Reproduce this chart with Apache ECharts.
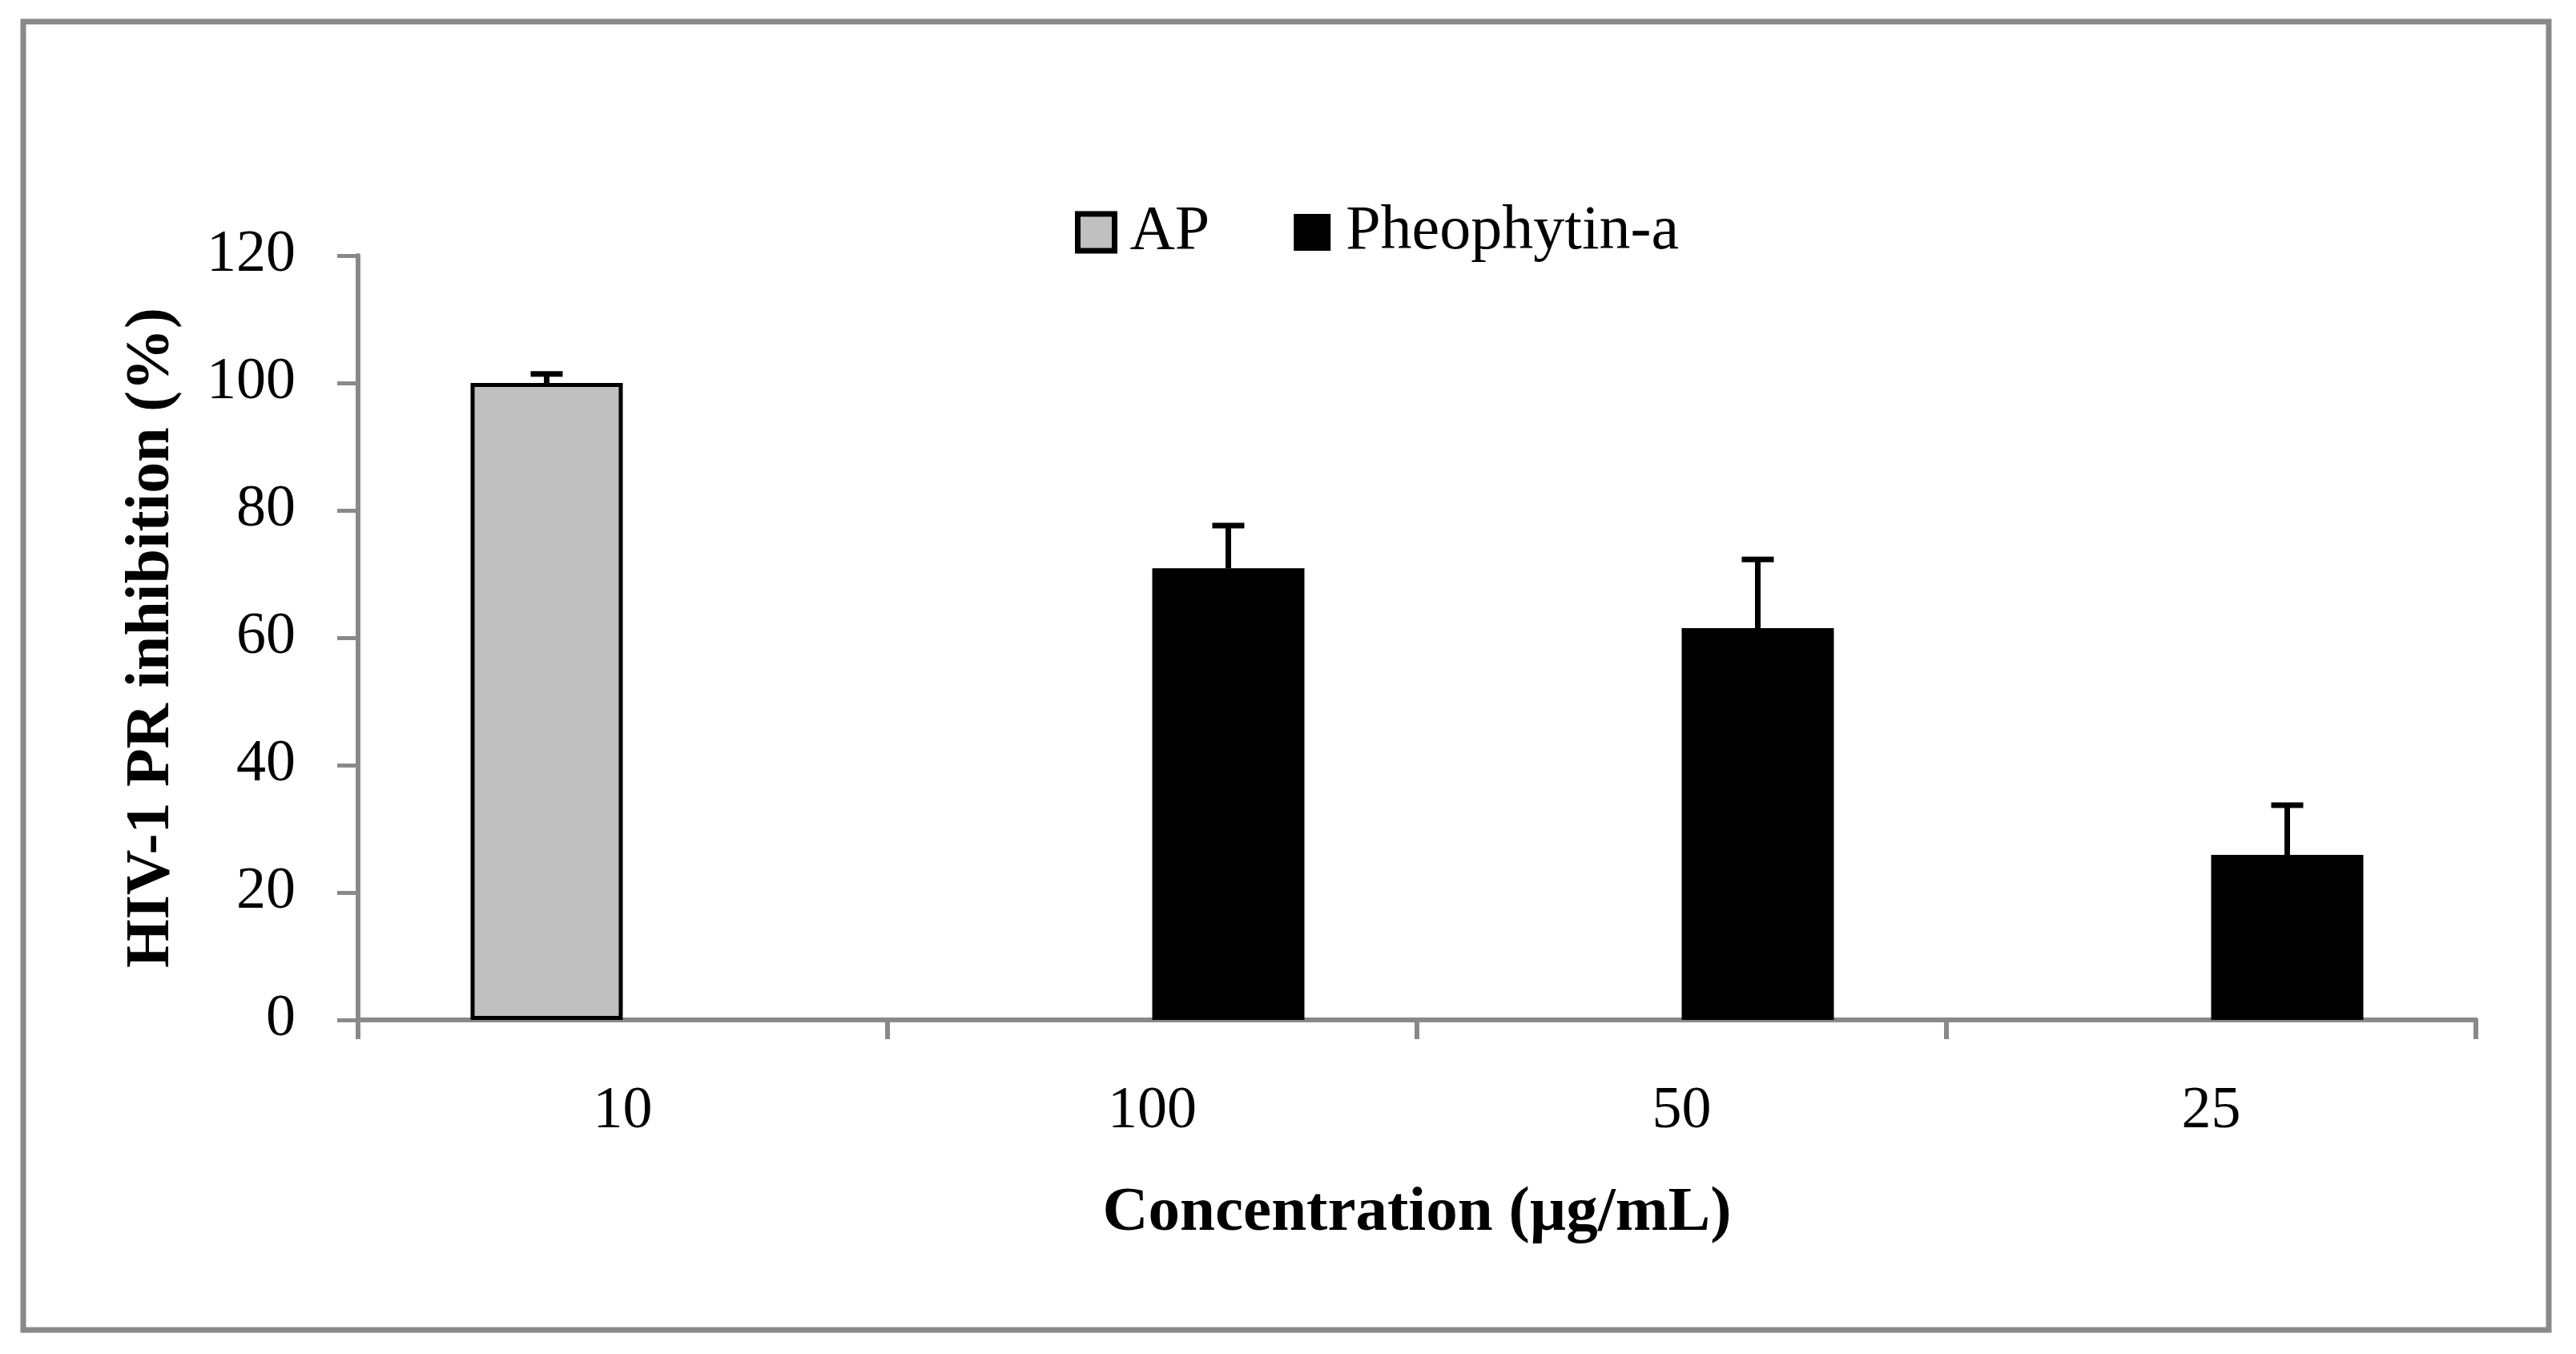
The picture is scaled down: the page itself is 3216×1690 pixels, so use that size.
<!DOCTYPE html>
<html lang="en">
<head>
	<meta charset="UTF-8">
	<title>HIV-1 PR inhibition</title>
	<script src="https://cdn.jsdelivr.net/npm/echarts@6/dist/echarts.min.js"></script>
	<style>
		html, body { margin: 0; padding: 0; background: #fff; }
	</style>
</head>
<body>
	<div id="chart" style="width: 3216px;height: 1690px;"></div>
	<script>
		// values
		var categories = ['10', '100', '50', '25'];
		var apValues = [100, null, null, null];
		var apErrors = [1.4, null, null, null];
		var pheoValues = [null, 70.9, 61.5, 25.9];
		var pheoErrors = [null, 6.7, 10.8, 7.8];
		var yTicks = [0, 20, 40, 60, 80, 100, 120];

		var FONT = '"Liberation Serif", "Times New Roman", serif';
		var GRAY = '#898989';
		var BAR_W = 190;
		var CAP = 20;

		function barData(vals) {
			return vals.map(function (v) { return v == null ? '-' : v; });
		}

		function errorData(vals, errs) {
			var out = [];
			vals.forEach(function (v, i) {
				if (v != null) out.push([i, v, v + errs[i]]);
			});
			return out;
		}

		function errorSeries(vals, errs, side) {
			return {
				type: 'custom',
				silent: true,
				z: 5,
				data: errorData(vals, errs),
				encode: { x: 0, y: [1, 2] },
				renderItem: function (params, api) {
					var base = api.coord([api.value(0), api.value(1)]);
					var top = api.coord([api.value(0), api.value(2)]);
					var x = base[0] + side * BAR_W / 2;
					var st = { stroke: '#000', lineWidth: 7 };
					return {
						type: 'group',
						children: [
							{ type: 'line', shape: { x1: x, y1: base[1], x2: x, y2: top[1] }, style: st },
							{ type: 'line', shape: { x1: x - CAP, y1: top[1], x2: x + CAP, y2: top[1] }, style: st }
						]
					};
				}
			};
		}

		var option = {
			animation: false,
			backgroundColor: '#fff',
			textStyle: { fontFamily: FONT },
			graphic: [{
				type: 'rect',
				shape: { x: 29, y: 27, width: 3153, height: 1633 },
				style: { fill: 'none', stroke: GRAY, lineWidth: 7 },
				silent: true
			}],
			legend: {
				data: [
					{ name: 'AP', itemStyle: { color: '#c0c0c0', borderColor: '#000', borderWidth: 7 } },
					{ name: 'Pheophytin-a' }
				],
				left: 1337,
				top: 246,
				itemWidth: 46,
				itemHeight: 46,
				itemGap: 105,
				icon: 'rect',
				textStyle: { fontFamily: FONT, fontSize: 78, color: '#000', padding: [0, 0, 0, 14] }
			},
			grid: { left: 447, right: 125, top: 319, bottom: 417, containLabel: false },
			xAxis: {
				type: 'category',
				data: categories,
				name: 'Concentration (µg/mL)',
				nameLocation: 'middle',
				nameGap: 202,
				nameTextStyle: { fontFamily: FONT, fontSize: 79, fontWeight: 'bold', color: '#000' },
				axisLine: { lineStyle: { color: GRAY, width: 6 } },
				axisTick: { show: true, interval: 0, length: 24, lineStyle: { color: GRAY, width: 6 } },
				axisLabel: { fontFamily: FONT, fontSize: 74, color: '#000', margin: 78 },
				splitLine: { show: false }
			},
			yAxis: {
				type: 'value',
				min: yTicks[0],
				max: yTicks[yTicks.length - 1],
				interval: yTicks[1] - yTicks[0],
				name: 'HIV-1 PR inhibition (%)',
				nameLocation: 'middle',
				nameGap: 218,
				nameTextStyle: { fontFamily: FONT, fontSize: 78, fontWeight: 'bold', color: '#000' },
				axisLine: { show: true, lineStyle: { color: GRAY, width: 6 } },
				axisTick: { show: true, length: 26, lineStyle: { color: GRAY, width: 5 } },
				axisLabel: { fontFamily: FONT, fontSize: 74, color: '#000', margin: 78 },
				splitLine: { show: false }
			},
			series: [
				{
					name: 'AP',
					type: 'bar',
					data: barData(apValues),
					barWidth: BAR_W,
					barGap: '0%',
					itemStyle: { color: '#c0c0c0', borderColor: '#000', borderWidth: 5 }
				},
				{
					name: 'Pheophytin-a',
					type: 'bar',
					data: barData(pheoValues),
					barWidth: BAR_W,
					barGap: '0%',
					itemStyle: { color: '#000' }
				},
				errorSeries(apValues, apErrors, -1),
				errorSeries(pheoValues, pheoErrors, 1)
			]
		};

		var myChart = echarts.init(document.getElementById('chart'));
		myChart.setOption(option);
	</script>
</body>
</html>
